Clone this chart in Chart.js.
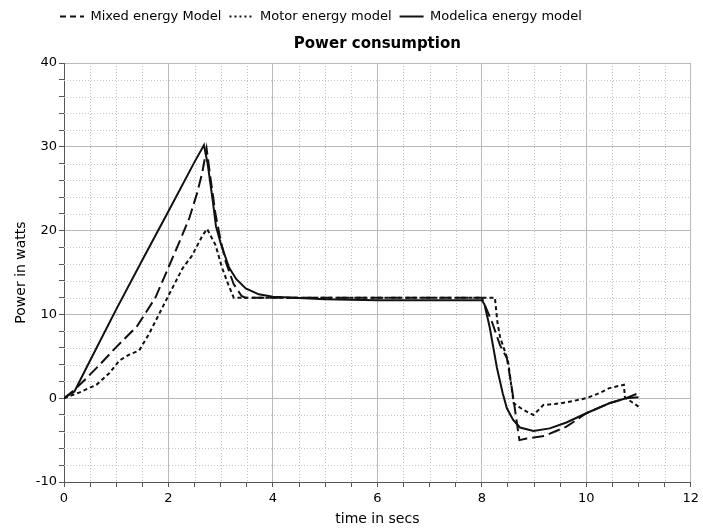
<!DOCTYPE html>
<html>
<head>
<meta charset="utf-8">
<script src="https://cdn.jsdelivr.net/npm/chart.js@4.4.1/dist/chart.umd.min.js"></script>
<style>
  html, body { margin: 0; padding: 0; background: #fff; }
  #wrap { width: 703px; height: 528px; }
</style>
</head>
<body>
<div id="wrap"><canvas id="powerChart" width="703" height="528"></canvas></div>
<script>
// values
const seriesNames = ["Mixed energy Model", "Motor energy model", "Modelica energy model"];

const mixedTime = [0, 0.2, 0.4, 0.7, 1.0, 1.4, 1.75, 2.0, 2.2, 2.4, 2.55, 2.65, 2.73,
  2.8, 2.9, 3.0, 3.1, 3.25, 3.4, 3.47, 8.0, 8.2, 8.35, 8.48, 8.58, 8.67, 8.72,
  8.86, 9.2, 9.62, 10.0, 10.44, 10.76, 11.0];
const mixedPower = [0, 1.0, 2.2, 4.1, 6.1, 8.6, 12.0, 15.6, 18.5, 21.5, 24.5, 27.0, 29.8,
  26.5, 22.0, 18.8, 16.2, 13.6, 12.2, 12.0, 12.0, 9.0, 6.3, 4.8, 1.0, -2.9, -5.0,
  -4.8, -4.5, -3.4, -1.8, -0.6, 0, 0.6];

const motorTime = [0, 0.3, 0.62, 0.87, 1.06, 1.25, 1.44, 1.63, 1.89, 2.08, 2.27, 2.45, 2.65, 2.74,
  2.9, 3.03, 3.15, 3.25, 8.25, 8.3, 8.35, 8.5, 8.61, 8.75, 8.86, 8.99, 9.18, 9.4, 9.62,
  10.0, 10.25, 10.44, 10.72, 10.74, 11.0];
const motorPower = [0, 0.7, 1.6, 3.0, 4.5, 5.2, 5.7, 7.7, 10.9, 13.2, 15.5, 17.0, 19.4, 20.2,
  18.3, 15.5, 13.5, 12.0, 12.0, 9.0, 7.3, 4.5, -0.6, -1.2, -1.6, -2.0, -0.8, -0.7, -0.5,
  0, 0.6, 1.2, 1.6, 0.1, -1.0];

const modelicaTime = [0, 0.2, 0.5, 1.0, 1.5, 2.0, 2.5, 2.68, 2.75, 2.85, 2.91, 3.0, 3.16, 3.3,
  3.48, 3.73, 4.0, 5.0, 6.0, 7.0, 8.0, 8.05, 8.15, 8.29, 8.4, 8.48, 8.6, 8.73, 8.99,
  9.3, 9.62, 10.0, 10.44, 10.76, 11.0];
const modelicaPower = [0, 0.8, 4.5, 10.6, 16.5, 22.3, 28.2, 30.2, 28.0, 23.5, 20.5, 18.5, 15.6, 14.2,
  13.1, 12.4, 12.1, 11.8, 11.7, 11.7, 11.7, 11.2, 8.5, 3.6, 0.6, -1.2, -2.6, -3.5, -3.9,
  -3.6, -2.9, -1.8, -0.6, 0, 0.1];

const xTickLabels = [0, 2, 4, 6, 8, 10, 12];
const yTickLabels = [-10, 0, 10, 20, 30, 40];

function toPoints(ts, ps) {
  return ts.map((t, i) => ({ x: t, y: ps[i] }));
}

Chart.defaults.font.family = "'DejaVu Sans', sans-serif";
Chart.defaults.font.size = 13;
Chart.defaults.color = "#000";

// dotted minor grid, drawn from the scale ticks
const minorGrid = {
  id: "minorGrid",
  beforeDatasetsDraw(chart) {
    const { ctx, chartArea: a, scales } = chart;
    ctx.save();
    ctx.strokeStyle = "#c4c4c4";
    ctx.lineWidth = 1;
    ctx.setLineDash([1, 2]);
    scales.x.ticks.forEach((t, i) => {
      if (xTickLabels.includes(t.value)) return;
      const px = Math.round(scales.x.getPixelForTick(i)) + 0.5;
      ctx.beginPath();
      ctx.moveTo(px, a.top);
      ctx.lineTo(px, a.bottom);
      ctx.stroke();
    });
    scales.y.ticks.forEach((t, i) => {
      if (yTickLabels.includes(t.value)) return;
      const py = Math.round(scales.y.getPixelForTick(i)) + 0.5;
      ctx.beginPath();
      ctx.moveTo(a.left, py);
      ctx.lineTo(a.right, py);
      ctx.stroke();
    });
    ctx.restore();
  }
};

// move legend to the left and centre the title over the plot
const placeBlocks = {
  id: "placeBlocks",
  afterLayout(chart) {
    const area = chart.chartArea;
    if (chart.legend) {
      const w = chart.legend.width;
      chart.legend.left = area.left - 12;
      chart.legend.right = chart.legend.left + w;
    }
    if (chart.titleBlock) {
      chart.titleBlock.left = area.left;
      chart.titleBlock.right = area.right;
    }
  }
};

const ctx = document.getElementById("powerChart").getContext("2d");
new Chart(ctx, {
  type: "line",
  data: {
    datasets: [
      {
        label: seriesNames[0],
        data: toPoints(mixedTime, mixedPower),
        borderColor: "#111",
        borderWidth: 2,
        borderDash: [12, 5],
        pointRadius: 0,
        tension: 0,
        fill: false
      },
      {
        label: seriesNames[1],
        data: toPoints(motorTime, motorPower),
        borderColor: "#111",
        borderWidth: 2,
        borderDash: [4, 3],
        pointRadius: 0,
        tension: 0,
        fill: false
      },
      {
        label: seriesNames[2],
        data: toPoints(modelicaTime, modelicaPower),
        borderColor: "#111",
        borderWidth: 2,
        pointRadius: 0,
        tension: 0,
        fill: false
      }
    ]
  },
  options: {
    responsive: false,
    animation: false,
    layout: { padding: { right: 8, top: 2, left: 0, bottom: 0 } },
    plugins: {
      tooltip: { enabled: false },
      legend: {
        position: "top",
        align: "start",
        weight: 3000,
        labels: {
          usePointStyle: true,
          pointStyle: "line",
          pointStyleWidth: 24,
          padding: 8,
          color: "#000",
          font: { size: 13 },
          generateLabels(chart) {
            const items = Chart.defaults.plugins.legend.labels.generateLabels(chart);
            items.forEach((it, i) => {
              it.pointStyle = "line";
              it.lineWidth = 2;
              it.strokeStyle = "#111";
              it.lineDash = i === 0 ? [6, 4] : i === 1 ? [2, 3] : [];
            });
            return items;
          }
        }
      },
      title: {
        display: true,
        text: "Power consumption",
        color: "#000",
        font: { size: 15, weight: "bold" },
        padding: { top: 2, bottom: 10 }
      }
    },
    scales: {
      x: {
        type: "linear",
        min: 0,
        max: 12,
        afterFit(scale) { scale.height = 46; },
        ticks: {
          stepSize: 0.5,
          autoSkip: false,
          maxRotation: 0,
          padding: 4,
          font: { size: 13 },
          callback: (v) => (xTickLabels.includes(v) ? String(v) : "")
        },
        grid: {
          color: (c) => (c.tick && xTickLabels.includes(c.tick.value) ? "#b9b9b9" : "rgba(0,0,0,0)"),
          tickColor: "#555",
          tickLength: 5
        },
        border: { color: "#555", width: 1 },
        title: {
          display: true,
          text: "time in secs",
          font: { size: 14 },
          padding: { top: 0, bottom: 0 }
        }
      },
      y: {
        type: "linear",
        min: -10,
        max: 40,
        afterFit(scale) { scale.width = 64; },
        ticks: {
          stepSize: 2,
          autoSkip: false,
          padding: 2,
          font: { size: 13 },
          callback: (v) => (yTickLabels.includes(v) ? String(v) : "")
        },
        grid: {
          color: (c) => (c.tick && yTickLabels.includes(c.tick.value) ? "#b9b9b9" : "rgba(0,0,0,0)"),
          tickColor: "#555",
          tickLength: 5
        },
        border: { color: "#555", width: 1 },
        title: {
          display: true,
          text: "Power in watts",
          font: { size: 14 },
          padding: { top: 13, bottom: 0 }
        }
      }
    }
  },
  plugins: [minorGrid, placeBlocks]
});
</script>
</body>
</html>
